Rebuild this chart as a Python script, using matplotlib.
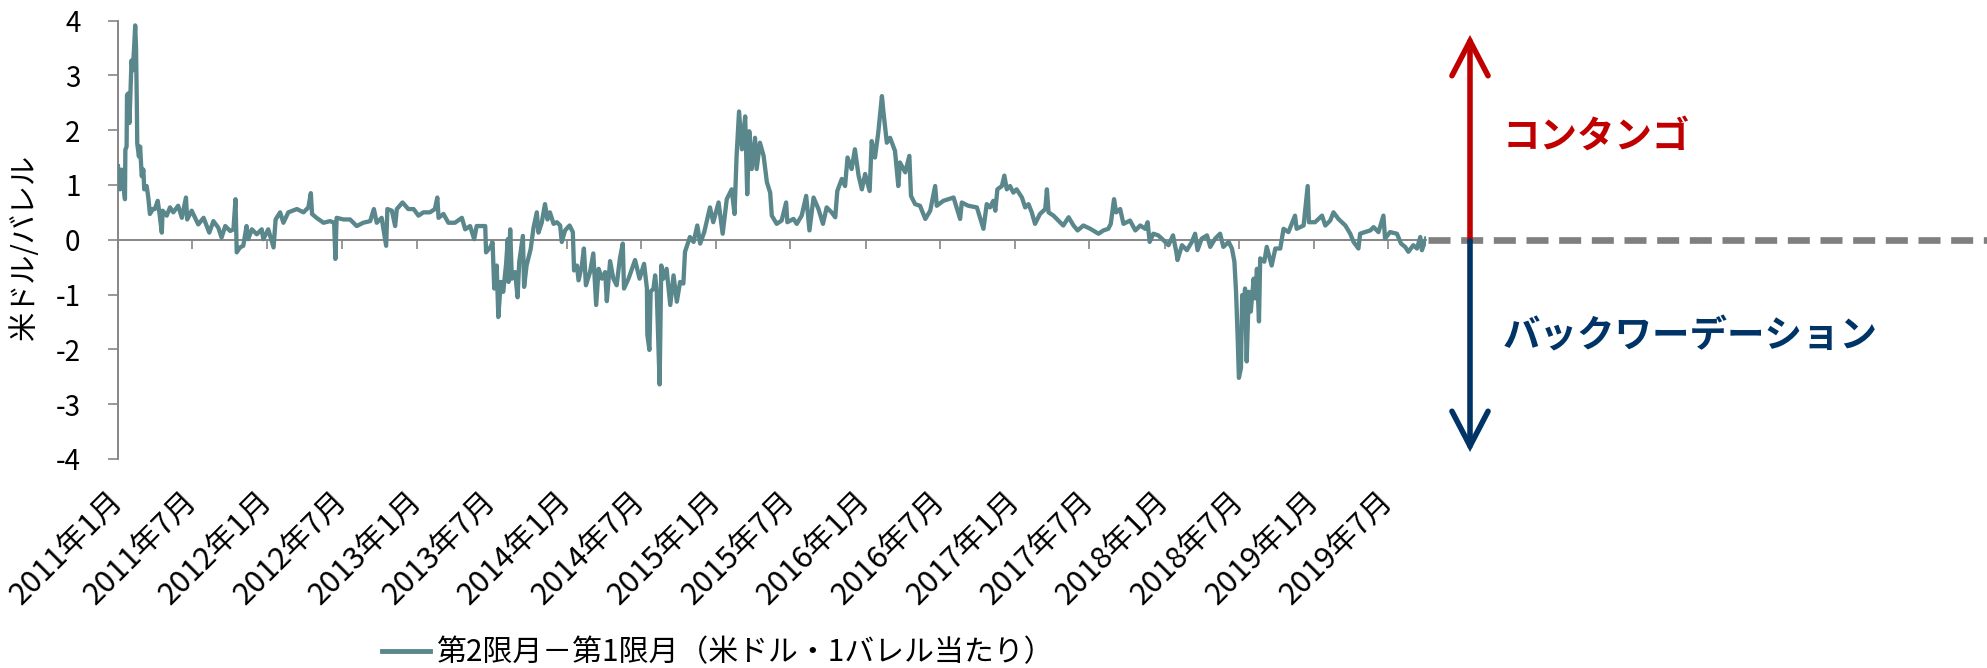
"""Spread between 2nd and 1st month crude futures, 2011-2019 (contango / backwardation)."""
import matplotlib
matplotlib.use("Agg")
import matplotlib.pyplot as plt
import matplotlib.dates as mdates
from matplotlib.patches import FancyArrowPatch
from matplotlib.transforms import blended_transform_factory
import pandas as pd

plt.rcParams["font.family"] = ["Noto Sans CJK JP", "DejaVu Sans"]
plt.rcParams["axes.unicode_minus"] = False

START = "2011-01-01"

# days since 2011-01-01
DAYS = [
    0, 5, 9, 17, 18, 21, 22, 25, 28, 31, 33, 36, 39, 42, 44, 46, 47, 51, 54, 58,
    62, 64, 70, 74, 78, 85, 90, 97, 101, 107, 109, 119, 127, 135, 147, 156, 166, 169, 180, 196,
    209, 223, 233, 245, 253, 262, 274, 282, 287, 290, 298, 306, 314, 318, 327, 339, 351, 355, 367, 380,
    385, 396, 404, 416, 437, 453, 465, 471, 474, 485, 502, 518, 528, 531, 534, 551, 567, 583, 599, 616,
    625, 632, 644, 655, 658, 669, 677, 681, 695, 709, 722, 734, 746, 762, 774, 780, 783, 795, 807, 823,
    840, 848, 860, 870, 876, 897, 899, 909, 915, 919, 925, 929, 935, 941, 948, 952, 954, 958, 962, 970,
    976, 980, 989, 992, 998, 1008, 1015, 1023, 1027, 1035, 1043, 1049,
    1055, 1064, 1072, 1080, 1084, 1092, 1103, 1111, 1114, 1121, 1125, 1133, 1138, 1143, 1153, 1161,
    1168, 1174, 1182, 1190, 1194, 1202, 1210, 1218, 1226, 1233, 1236, 1247, 1263, 1274, 1285, 1292,
    1293, 1298, 1301, 1308, 1312, 1316, 1323, 1327, 1332, 1340, 1349, 1357, 1365, 1373, 1381, 1385,
    1397, 1406, 1415, 1422, 1432, 1446, 1454, 1467, 1477, 1487, 1499, 1506, 1511, 1517, 1524, 1532,
    1537, 1542, 1548, 1556, 1560, 1568, 1577, 1585, 1593, 1597, 1609, 1621, 1632, 1635, 1650, 1658,
    1670, 1681, 1689, 1699, 1711, 1722, 1731, 1743, 1752, 1757, 1768, 1776, 1782, 1792, 1800, 1809,
    1817, 1825, 1836, 1841, 1849, 1857, 1866, 1870, 1878, 1886, 1898, 1906, 1910, 1923, 1933, 1937,
    1947, 1959, 1972, 1984, 1996, 2000, 2016, 2041, 2057, 2061, 2077, 2098, 2114, 2122,
    2130, 2138, 2143, 2148, 2159, 2165, 2171, 2179, 2187, 2195, 2208, 2216, 2224, 2232, 2240, 2252,
    2265, 2269, 2273, 2285, 2297, 2309, 2322, 2334, 2344, 2358, 2375, 2395, 2407, 2419, 2425, 2433,
    2438, 2448, 2456, 2472, 2485, 2497, 2509, 2515, 2520, 2529, 2541, 2554, 2566, 2577, 2585, 2588,
    2599, 2611, 2623, 2631, 2637, 2647, 2660, 2668, 2680, 2692, 2700, 2713, 2721, 2727, 2731, 2735,
    2738, 2743, 2746, 2749, 2753, 2757, 2762, 2767, 2774, 2778, 2782, 2787, 2790, 2800, 2806, 2818,
    2827, 2839, 2847, 2859, 2875, 2879, 2896, 2906, 2909, 2924, 2941, 2949, 2961, 2969, 2981, 2998,
    3010, 3018, 3030, 3034, 3046, 3059, 3067, 3079, 3091, 3095, 3107, 3124, 3134, 3144, 3152, 3164,
    3173, 3181, 3185, 3195,
]

# 2nd month minus 1st month, USD per barrel
SPREAD = [
    1.34, 0.92, 1.28, 0.74, 1.64, 1.70, 2.64, 2.67, 2.13, 2.79, 3.27, 3.09, 3.46, 3.91, 3.52, 2.49, 1.76, 1.52, 1.70, 1.16,
    1.28, 0.92, 0.98, 0.77, 0.47, 0.56, 0.56, 0.71, 0.50, 0.13, 0.53, 0.44, 0.59, 0.50, 0.62, 0.40, 0.77, 0.37, 0.53, 0.28,
    0.40, 0.13, 0.34, 0.22, 0.04, 0.25, 0.16, 0.19, 0.74, -0.23, -0.14, -0.11, 0.25, 0.01, 0.19, 0.10, 0.19, 0.01, 0.19, -0.14,
    0.37, 0.50, 0.31, 0.50, 0.56, 0.50, 0.59, 0.85, 0.47, 0.40, 0.31, 0.34, 0.31, -0.35, 0.40, 0.37, 0.37, 0.25, 0.31, 0.34,
    0.56, 0.31, 0.40, -0.11, 0.56, 0.53, 0.25, 0.56, 0.68, 0.56, 0.56, 0.44, 0.50, 0.50, 0.56, 0.77, 0.40, 0.47, 0.31, 0.31,
    0.40, 0.19, 0.25, 0.01, 0.25, 0.25, -0.23, -0.14, -0.05, -0.89, -0.47, -1.41, -0.77, -0.95, -0.44, 0.01, -0.77, 0.19, -0.71, -0.59,
    -1.05, -0.41, 0.07, -0.86, -0.47, -0.17, 0.22, 0.50, 0.13, 0.31, 0.65, 0.37,
    0.50, 0.29, 0.32, 0.26, -0.04, 0.17, 0.26, 0.14, -0.56, -0.47, -0.74, -0.47, -0.16, -0.83, -0.59, -0.25,
    -1.19, -0.53, -0.71, -0.59, -1.12, -0.39, -0.71, -0.83, -0.34, -0.07, -0.89, -0.71, -0.37, -0.71, -0.44, -0.89,
    -1.73, -2.01, -0.95, -0.89, -0.65, -0.95, -2.64, -0.47, -0.71, -0.53, -1.19, -0.65, -1.13, -0.77, -0.80, -0.22,
    0.05, -0.04, 0.26, -0.07, 0.14, 0.59, 0.32, 0.68, 0.11, 0.74, 0.92, 0.47, 1.53, 2.34, 1.65, 2.25,
    0.83, 1.98, 1.29, 1.86, 1.29, 1.77, 1.53, 1.05, 0.86, 0.44, 0.29, 0.35, 0.68, 0.32, 0.38, 0.29,
    0.44, 0.80, 0.17, 0.77, 0.56, 0.29, 0.59, 0.50, 0.41, 0.89, 1.11, 0.98, 1.50, 1.29, 1.65, 1.17,
    0.92, 1.20, 0.89, 1.80, 1.50, 1.95, 2.62, 2.31, 1.77, 1.86, 1.62, 0.98, 1.41, 1.23, 1.53, 0.80,
    0.65, 0.62, 0.38, 0.53, 0.98, 0.62, 0.71, 0.77, 0.38, 0.68, 0.62, 0.59, 0.20, 0.65,
    0.59, 0.71, 0.53, 0.92, 0.98, 1.17, 0.92, 0.98, 0.86, 0.92, 0.77, 0.59, 0.65, 0.50, 0.29, 0.47,
    0.56, 0.92, 0.50, 0.44, 0.35, 0.26, 0.41, 0.26, 0.17, 0.26, 0.20, 0.11, 0.17, 0.20, 0.29, 0.74,
    0.50, 0.56, 0.29, 0.35, 0.17, 0.26, 0.20, 0.32, -0.04, 0.11, 0.08, -0.01, -0.10, 0.08, -0.22, -0.37,
    -0.10, -0.19, -0.04, 0.11, -0.19, 0.02, 0.08, -0.13, 0.02, 0.11, -0.13, -0.04, -0.16, -0.40, -0.95, -1.79,
    -2.52, -2.34, -1.01, -1.31, -0.89, -2.22, -0.95, -1.31, -0.71, -1.07, -0.53, -1.49, -0.34, -0.40, -0.13, -0.47,
    -0.16, -0.16, 0.20, 0.14, 0.44, 0.20, 0.26, 0.98, 0.32, 0.32, 0.44, 0.26, 0.35, 0.50, 0.38, 0.26,
    0.11, -0.04, -0.16, 0.11, 0.14, 0.17, 0.23, 0.14, 0.44, 0.02, 0.14, 0.11, -0.07, -0.13, -0.22, -0.10,
    -0.16, 0.05, -0.19, 0.02,
]

TICK_DATES = pd.date_range("2011-01-01", "2019-07-01", freq="6MS")
TICK_LABELS = [f"{d.year}年{d.month}月" for d in TICK_DATES]
YTICKS = [-4, -3, -2, -1, 0, 1, 2, 3, 4]

LINE_COLOR = "#5A878B"
AXIS_GRAY = "#868686"
RED = "#C00000"
NAVY = "#003366"

W, H = 1987, 668


def fx(px):
    return px / W


def fy(py):
    return 1 - py / H


def build():
    dates = pd.Timestamp(START) + pd.to_timedelta(DAYS, unit="D")

    fig = plt.figure(figsize=(W / 100, H / 100), dpi=100)
    ax = fig.add_axes([fx(118), fy(459), fx(1426) - fx(118), fy(20.5) - fy(459)])

    # spine position first: moving a spine resets the tick label styling
    for side in ("top", "right"):
        ax.spines[side].set_visible(False)
    ax.spines["bottom"].set_position(("data", 0))
    for side in ("left", "bottom"):
        ax.spines[side].set_color(AXIS_GRAY)
        ax.spines[side].set_linewidth(1.4)

    ax.plot(dates, SPREAD, color=LINE_COLOR, lw=3.1, solid_joinstyle="round",
            label="第2限月－第1限月（米ドル・1バレル当たり）", zorder=3)

    ax.set_xlim(pd.Timestamp(START), dates[-1])
    ax.set_ylim(-4, 4)
    ax.set_yticks(YTICKS)
    ax.tick_params(axis="y", labelsize=20, direction="out", length=7,
                   width=1.2, color=AXIS_GRAY, pad=20)

    ax.set_xticks(mdates.date2num(TICK_DATES))
    ax.set_xticklabels(TICK_LABELS, rotation=45, ha="right", va="center",
                       rotation_mode="anchor", fontsize=22)
    ax.tick_params(axis="x", direction="out", length=6.5, width=1.2,
                   color=AXIS_GRAY, pad=178)

    fig.text(fx(25), fy(247), "米ドル/バレル", rotation=90, ha="center",
             va="center", fontsize=21)

    # dashed zero line continuing to the right edge
    tr = blended_transform_factory(fig.transFigure, ax.transData)
    ax.plot([fx(1428), 1.0], [0, 0], transform=tr, color="#7F7F7F", lw=4.8,
            dashes=(3.3, 1.6), clip_on=False, zorder=2)

    # contango / backwardation arrows
    arrow_kw = dict(arrowstyle="->,head_length=0.5,head_width=0.26",
                    mutation_scale=50, lw=4, shrinkA=0, shrinkB=0,
                    transform=fig.transFigure, joinstyle="miter",
                    capstyle="round")
    fig.add_artist(FancyArrowPatch((fx(1470), fy(241)), (fx(1470), fy(35)),
                                   color=RED, **arrow_kw))
    fig.add_artist(FancyArrowPatch((fx(1470), fy(241)), (fx(1470), fy(452)),
                                   color=NAVY, **arrow_kw))

    fig.text(fx(1503), fy(136), "コンタンゴ", color=RED, fontsize=27,
             fontweight="bold", ha="left", va="center")
    fig.text(fx(1503), fy(336), "バックワーデーション", color=NAVY, fontsize=27,
             fontweight="bold", ha="left", va="center")

    leg = fig.legend(loc="center", bbox_to_anchor=(fx(718), fy(653)),
                     frameon=False, fontsize=21.5, handlelength=1.6,
                     handletextpad=0.2, borderaxespad=0, borderpad=0)
    for h in leg.get_lines():
        h.set_linewidth(3.5)

    fig.savefig("out.png", dpi=100)
    plt.close(fig)


if __name__ == "__main__":
    build()
